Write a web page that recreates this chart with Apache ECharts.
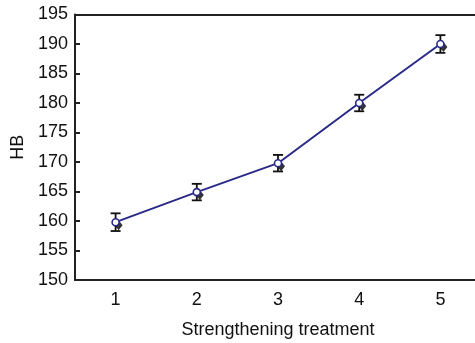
<!DOCTYPE html>
<html><head><meta charset="utf-8">
<script src="https://cdn.jsdelivr.net/npm/echarts@6/dist/echarts.min.js"></script>
<style>html,body{margin:0;padding:0;background:#fff}#c{width:475px;height:343px}</style>
</head><body><div id="c"></div>
<script>
const categories = ['1','2','3','4','5'];
const hbValues = [159.8, 164.9, 169.8, 180.0, 190.0];
const hbErrors = [1.5, 1.4, 1.4, 1.4, 1.5];
const yTicks = {min:150, max:195, interval:5};

const chart = echarts.init(document.getElementById('c'));
const errData = hbValues.map((v,i)=>[i, v-hbErrors[i], v+hbErrors[i]]);
const font = 'Liberation Sans, Arial, sans-serif';
chart.setOption({
  animation:false,
  grid:{left:75, top:14.5, bottom:63, width:406, outerBoundsMode:'none', containLabel:false, show:false},
  xAxis:[{type:'category', data:categories, boundaryGap:true,
    name:'Strengthening treatment', nameLocation:'middle', nameGap:41,
    nameTextStyle:{fontFamily:font, fontSize:18, color:'#111'},
    axisLine:{lineStyle:{color:'#222', width:2}},
    axisTick:{inside:true, length:5, lineStyle:{color:'#222', width:2}},
    axisLabel:{fontFamily:font, fontSize:18, color:'#111', margin:11},
    splitLine:{show:false}},
   {type:'category', data:categories, position:'top',
    axisLine:{show:true, lineStyle:{color:'#222', width:2}},
    axisTick:{show:false}, axisLabel:{show:false}, splitLine:{show:false}}],
  yAxis:{type:'value', min:yTicks.min, max:yTicks.max, interval:yTicks.interval,
    name:'HB', nameLocation:'middle', nameGap:48,
    nameTextStyle:{fontFamily:font, fontSize:18, color:'#111'},
    axisLine:{show:true, lineStyle:{color:'#222', width:2}},
    axisTick:{show:true, inside:true, length:5, lineStyle:{color:'#222', width:2}},
    axisLabel:{fontFamily:font, fontSize:18, color:'#111', margin:7},
    splitLine:{show:false}},
  series:[
    {type:'custom', z:2, data:errData,
      renderItem:function(params, api){
        const x = api.value(0);
        const lo = api.coord([x, api.value(1)]);
        const hi = api.coord([x, api.value(2)]);
        const cw = 5;
        const st = {stroke:'#111', lineWidth:1.8};
        return {type:'group', children:[
          {type:'line', shape:{x1:hi[0], y1:hi[1], x2:lo[0], y2:lo[1]}, style:st},
          {type:'line', shape:{x1:hi[0]-cw, y1:hi[1], x2:hi[0]+cw, y2:hi[1]}, style:st},
          {type:'line', shape:{x1:lo[0]-cw, y1:lo[1], x2:lo[0]+cw, y2:lo[1]}, style:st}
        ]};
      }},
    {type:'scatter', z:3, data:hbValues, symbol:'diamond', symbolSize:[8,10], symbolOffset:[3,3],
      itemStyle:{color:'#000'}},
    {type:'line', z:4, data:hbValues, symbol:'circle', symbolSize:7,
      lineStyle:{color:'#2a2a88', width:2},
      itemStyle:{color:'#fff', borderColor:'#2a2a88', borderWidth:1.6}}
  ]
});
</script></body></html>
